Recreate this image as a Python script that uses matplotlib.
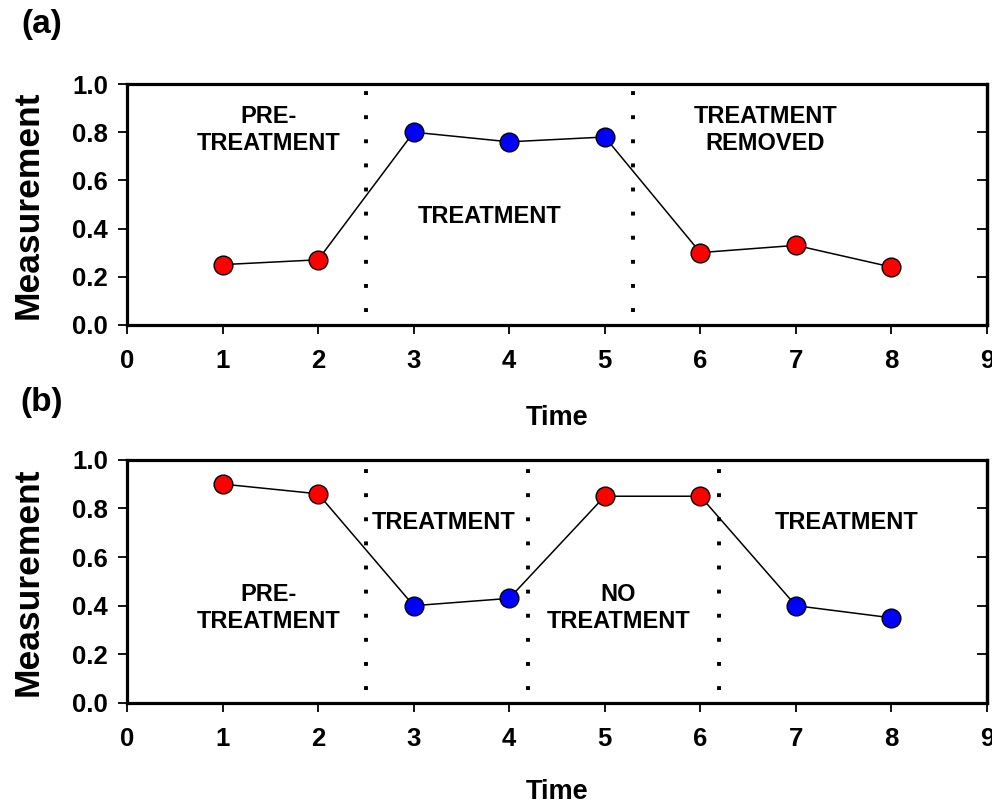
import matplotlib
matplotlib.use('Agg')
import matplotlib.pyplot as plt
import numpy as np

plt.rcParams['font.family'] = ['Liberation Sans', 'DejaVu Sans']
plt.rcParams['font.weight'] = 'bold'

# panel (a)
time_a = [1, 2, 3, 4, 5, 6, 7, 8]
meas_a = [0.25, 0.27, 0.80, 0.76, 0.78, 0.30, 0.33, 0.24]
phase_a = ['pre', 'pre', 'tx', 'tx', 'tx', 'pre', 'pre', 'pre']
breaks_a = [2.5, 5.3]
labels_a = ['PRE-\nTREATMENT', 'TREATMENT', 'TREATMENT\nREMOVED']
label_x_a = [1.48, 3.8, 6.68]
label_y_a = [0.81, 0.45, 0.81]

# panel (b)
time_b = [1, 2, 3, 4, 5, 6, 7, 8]
meas_b = [0.90, 0.86, 0.40, 0.43, 0.85, 0.85, 0.40, 0.35]
phase_b = ['pre', 'pre', 'tx', 'tx', 'pre', 'pre', 'tx', 'tx']
breaks_b = [2.5, 4.2, 6.2]
labels_b = ['PRE-\nTREATMENT', 'TREATMENT', 'NO\nTREATMENT', 'TREATMENT']
label_x_b = [1.48, 3.31, 5.14, 7.53]
label_y_b = [0.39, 0.74, 0.39, 0.74]

colors = {'pre': '#ff0000', 'tx': '#0000ff'}

fig = plt.figure(figsize=(9.92, 8.08), dpi=100)
ax_a = fig.add_axes([0.128, 0.598, 0.867, 0.298])
ax_b = fig.add_axes([0.128, 0.130, 0.867, 0.301])


def draw_panel(ax, t, m, phase, breaks, labels, lx, ly, time_y):
    ax.plot(t, m, color='black', lw=1.1, zorder=2)
    for xi, yi, p in zip(t, m, phase):
        ax.plot(xi, yi, 'o', ms=13.5, mfc=colors[p], mec='black', mew=1.0, zorder=3)
    for b in breaks:
        ax.axvline(b, ymin=0.055, ymax=0.985, color='black', lw=2.8,
                   linestyle=(0, (1, 5.2)), zorder=1)
    for s, x, y in zip(labels, lx, ly):
        ax.text(x, y, s, ha='center', va='center', fontsize=17,
                fontweight='bold', linespacing=1.2)
    ax.set_xlim(0, 9)
    ax.set_ylim(0, 1.0)
    ax.set_xticks(np.arange(0, 10, 1))
    ax.set_yticks(np.arange(0, 1.01, 0.2))
    ax.set_yticklabels(['%.1f' % v for v in np.arange(0, 1.01, 0.2)])
    for sp in ax.spines.values():
        sp.set_linewidth(2.3)
    ax.tick_params(axis='both', which='major', labelsize=18.5, width=1.3, length=6.5)
    ax.tick_params(axis='x', direction='out', pad=11)
    ax.tick_params(axis='y', direction='out', pad=7)
    # inward ticks on the right side
    ax2 = ax.secondary_yaxis('right')
    ax2.set_yticks(np.arange(0.2, 0.81, 0.2))
    ax2.tick_params(direction='in', length=7, width=1.3, labelright=False)
    ax2.spines['right'].set_linewidth(2.3)
    for lab in ax.get_xticklabels() + ax.get_yticklabels():
        lab.set_fontweight('bold')
    ax.set_ylabel('Measurement', fontsize=25.5, fontweight='bold', va='center')
    ax.yaxis.set_label_coords(-0.115, 0.5)
    ax.set_xlabel('Time', fontsize=19.5, fontweight='bold', va='center')
    ax.xaxis.set_label_coords(0.5, time_y)


draw_panel(ax_a, time_a, meas_a, phase_a, breaks_a, labels_a, label_x_a, label_y_a, -0.386)
draw_panel(ax_b, time_b, meas_b, phase_b, breaks_b, labels_b, label_x_b, label_y_b, -0.366)

fig.text(42 / 992, 1 - 24 / 808, '(a)', fontsize=24, fontweight='bold', ha='center', va='center')
fig.text(42 / 992, 1 - 402 / 808, '(b)', fontsize=24, fontweight='bold', ha='center', va='center')

fig.savefig('out.png', dpi=100)
